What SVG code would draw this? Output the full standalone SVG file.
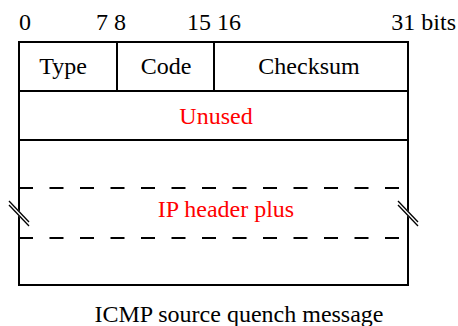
<svg xmlns="http://www.w3.org/2000/svg" width="458" height="326" viewBox="0 0 458 326">
<style>
text{font-family:"Liberation Serif","Times New Roman",serif;font-size:24px;fill:#000}
.r{fill:#ff0000}
.m{text-anchor:middle}
.ln{stroke:#000;stroke-width:2;fill:none}
.d{stroke:#000;stroke-width:2;stroke-dasharray:14 16.5;fill:none}
</style>
<rect width="458" height="326" fill="#fff"/>
<g id="bit-labels">
<text x="19" y="30">0</text>
<text x="111" y="30" class="m">7 8</text>
<text x="214" y="30" class="m">15 16</text>
<text x="456" y="30" style="text-anchor:end">31 bits</text>
</g>
<g id="header-row">
<rect class="ln" x="19" y="42" width="389" height="243"/>
<line class="ln" x1="117" y1="42" x2="117" y2="91"/>
<line class="ln" x1="214" y1="42" x2="214" y2="91"/>
<line class="ln" x1="19" y1="91" x2="408" y2="91"/>
<text x="63" y="74" class="m">Type</text>
<text x="166" y="74" class="m">Code</text>
<text x="309" y="74" class="m">Checksum</text>
</g>
<g id="unused-row">
<line class="ln" x1="19" y1="140" x2="408" y2="140"/>
<text x="216" y="124" class="m r">Unused</text>
</g>
<g id="ip-header">
<line class="d" x1="19" y1="188" x2="408" y2="188"/>
<line class="d" x1="19" y1="238" x2="408" y2="238"/>
<text x="226" y="217" class="m r">IP header plus</text>
</g>
<g id="break-marks">
<line x1="9" y1="203" x2="29" y2="224" stroke="#fff" stroke-width="4"/>
<line x1="9" y1="201" x2="29" y2="222" stroke="#000" stroke-width="1.3"/>
<line x1="9" y1="205" x2="29" y2="226" stroke="#000" stroke-width="1.3"/>
<line x1="398" y1="203" x2="418" y2="224" stroke="#fff" stroke-width="4"/>
<line x1="398" y1="201" x2="418" y2="222" stroke="#000" stroke-width="1.3"/>
<line x1="398" y1="205" x2="418" y2="226" stroke="#000" stroke-width="1.3"/>
</g>
<text x="239" y="322" class="m">ICMP source quench message</text>
</svg>
